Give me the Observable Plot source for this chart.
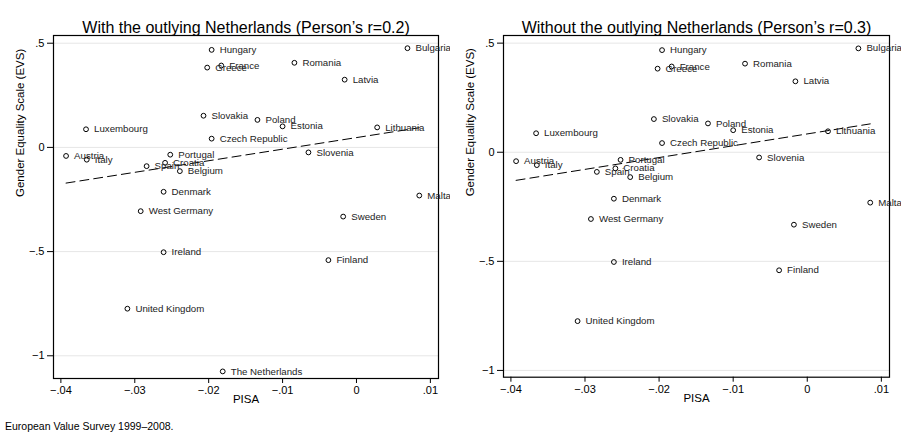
<!DOCTYPE html>
<html><head><meta charset="utf-8">
<script src="https://cdn.jsdelivr.net/npm/d3@7"></script>
<script src="https://cdn.jsdelivr.net/npm/@observablehq/plot@0.6"></script>
<style>
body{margin:0;background:#fff;overflow:hidden;}
#wrap{position:relative;width:901px;height:440px;font-family:"Liberation Sans",Arial,sans-serif;color:#000;}
#left{position:absolute;left:0;top:0;}
#right{position:absolute;left:450px;top:0;}
#caption{position:absolute;left:5px;top:419px;font-size:10.5px;line-height:14px;}
svg{overflow:visible;}
</style></head>
<body><div id="wrap"><div id="left"></div><div id="right"></div><div id="caption">European Value Survey 1999–2008.</div></div>
<script>
const countries = ["Hungary","Bulgaria","France","Greece","Romania","Latvia","Slovakia","Poland","Estonia","Lithuania","Luxembourg","Czech Republic","Austria","Italy","Portugal","Slovenia","Croatia","Spain","Belgium","Denmark","Malta","West Germany","Sweden","Ireland","Finland","United Kingdom","The Netherlands"];
const pisa = [-0.0196,0.0069,-0.0183,-0.0202,-0.0084,-0.0016,-0.0207,-0.0134,-0.0100,0.0028,-0.0366,-0.0196,-0.0393,-0.0365,-0.0252,-0.0065,-0.0259,-0.0284,-0.0239,-0.0261,0.0085,-0.0292,-0.0018,-0.0261,-0.0038,-0.0310,-0.0181];
const evs = [0.468,0.476,0.393,0.383,0.406,0.325,0.152,0.132,0.101,0.096,0.087,0.042,-0.041,-0.059,-0.035,-0.024,-0.074,-0.090,-0.114,-0.213,-0.231,-0.306,-0.332,-0.503,-0.541,-0.774,-1.075];
const outlier = "The Netherlands";
const xTicks = [-0.04,-0.03,-0.02,-0.01,0,0.01];
const xTickLabels = ["\u2212.04","\u2212.03","\u2212.02","\u2212.01","0",".01"];
const yTicks = [0.5,0,-0.5,-1];
const yTickLabels = [".5","0","\u2212.5","\u22121"];
const titles = ["With the outlying Netherlands (Person\u2019s r=0.2)","Without the outlying Netherlands (Person\u2019s r=0.3)"];
const xTitle = "PISA";
const yTitle = "Gender Equality Scale (EVS)";

const all = countries.map((c,i)=>({country:c, x:pisa[i], y:evs[i]}));
const noOut = all.filter(d=>d.country!==outlier);
const xFmt = new Map(xTicks.map((t,i)=>[t,xTickLabels[i]]));
const yFmt = new Map(yTicks.map((t,i)=>[t,yTickLabels[i]]));

function panel(data, title, cfg){
  return Plot.plot({
    width:450, height:420,
    marginLeft:cfg.ml, marginRight:cfg.mr, marginTop:35, marginBottom:cfg.mb,
    style:{fontFamily:"'Liberation Sans', Arial, sans-serif", fontSize:"11px", background:"white", color:"black", overflow:"visible"},
    x:{domain:cfg.xd, label:null},
    y:{domain:cfg.yd, label:null},
    marks:[
      Plot.gridY(yTicks,{stroke:"#e6e6e6", strokeOpacity:1, strokeWidth:1}),
      Plot.frame({stroke:"black", strokeWidth:1.2}),
      Plot.axisX(xTicks,{tickFormat:d=>xFmt.get(d), tickSize:5, tickPadding:3, label:null, fontSize:11}),
      Plot.axisY(yTicks,{tickFormat:d=>yFmt.get(d), tickSize:6, tickPadding:3, label:null, fontSize:11}),
      Plot.linearRegressionY(data,{x:"x", y:"y", ci:0, stroke:"black", strokeWidth:1, strokeDasharray:"9,5"}),
      Plot.dot(data,{x:"x", y:"y", r:2.4, stroke:"black", strokeWidth:1, fill:"none"}),
      Plot.text(data,{x:"x", y:"y", text:"country", textAnchor:"start", dx:8, fontSize:9.7, fill:"#222"}),
      Plot.text([title],{frameAnchor:"top", dy:-14, fontSize:16, text:d=>d}),
      Plot.text([xTitle],{frameAnchor:"bottom", dy:cfg.xdy, fontSize:11.5, text:d=>d}),
      Plot.text([yTitle],{frameAnchor:"left", dx:-33, dy:-10, rotate:-90, fontSize:11.5, text:d=>d})
    ]
  });
}

document.getElementById("left").appendChild(panel(all, titles[0], {ml:53, mr:12, mb:42, xd:[-0.041,0.0111], yd:[-1.109,0.537], xdy:24}));
document.getElementById("right").appendChild(panel(noOut, titles[1], {ml:53, mr:11, mb:43.3, xd:[-0.041,0.0111], yd:[-1.031,0.535], xdy:25}));
</script>
</body></html>
